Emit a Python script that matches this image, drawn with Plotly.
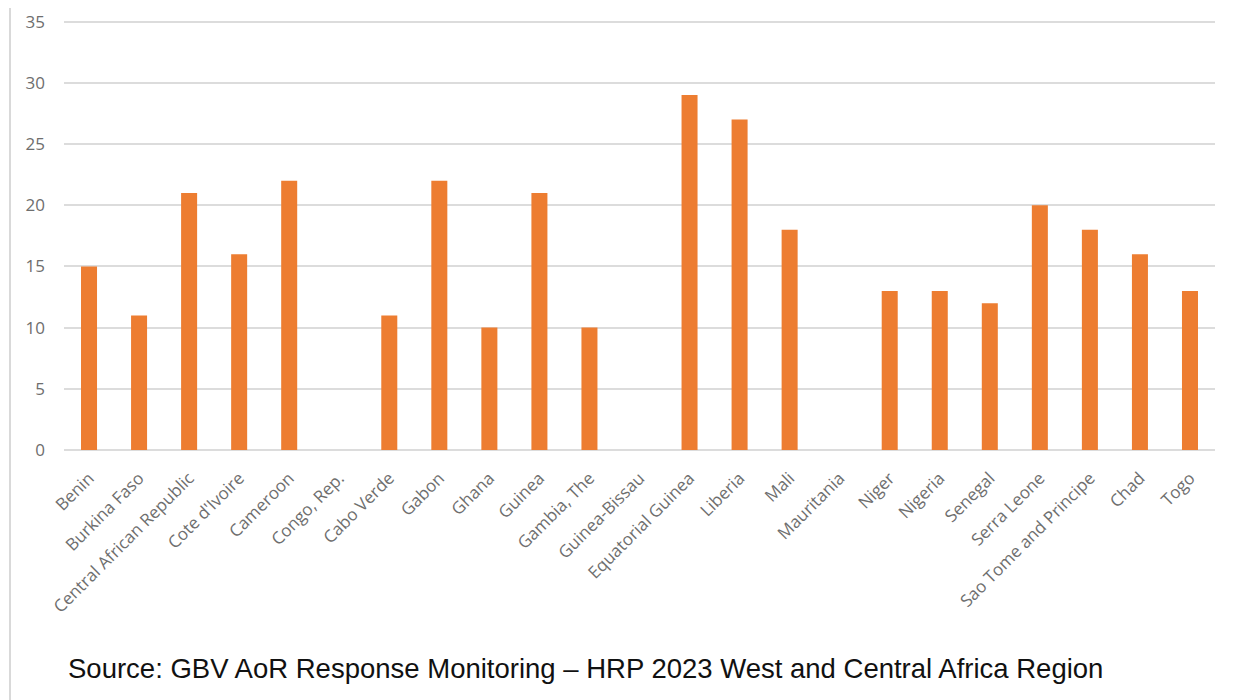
import plotly.graph_objects as go

countries = ["Benin", "Burkina Faso", "Central African Republic", "Cote d'Ivoire", "Cameroon",
             "Congo, Rep.", "Cabo Verde", "Gabon", "Ghana", "Guinea", "Gambia, The",
             "Guinea-Bissau", "Equatorial Guinea", "Liberia", "Mali", "Mauritania", "Niger",
             "Nigeria", "Senegal", "Serra Leone", "Sao Tome and Principe", "Chad", "Togo"]
values = [15, 11, 21, 16, 22, 0, 11, 22, 10, 21, 10, 0, 29, 27, 18, 0, 13, 13, 12, 20, 18, 16, 13]
y_ticks = [0, 5, 10, 15, 20, 25, 30, 35]
source_text = "Source: GBV AoR Response Monitoring \u2013 HRP 2023 West and Central Africa Region"

# page body has an 8px margin; compensate so the photographed layout matches
OFF = 8
W, H = 1238, 700
Y_MAX = 35.3
ml, mr, mb = 64 - OFF, 23 + OFF, 250 + OFF
ph = round(428 * Y_MAX / 35)
mt = H - mb - ph
pw = W - ml - mr

fig = go.Figure(go.Bar(x=countries, y=values, marker_color="#ED7D31", marker_line_width=0))

fig.update_layout(
    width=W, height=H,
    margin=dict(l=ml, r=mr, t=mt, b=mb, autoexpand=False),
    paper_bgcolor="white", plot_bgcolor="white",
    bargap=0.68,
    showlegend=False,
    font=dict(family="Open Sans, sans-serif", color="#7f7f7f"),
    xaxis=dict(
        tickangle=-45, tickfont=dict(size=17, color="#6e6e6e"),
        showgrid=False, showline=False, zeroline=False, ticks="",
        ticklabelstandoff=14, automargin=False,
    ),
    yaxis=dict(
        range=[0, Y_MAX], tickvals=y_ticks, ticktext=[str(v) for v in y_ticks],
        showgrid=True, gridcolor="#dcdcdc", gridwidth=2,
        zeroline=True, zerolinecolor="#dcdcdc", zerolinewidth=2,
        showline=False, ticks="", tickfont=dict(size=17, color="#6e6e6e"),
        ticklabelstandoff=18, automargin=False,
    ),
    annotations=[dict(
        text=source_text, xref="paper", yref="paper",
        x=(66 - OFF - ml) / pw, y=-(668 - OFF - (H - mb)) / ph,
        xanchor="left", yanchor="middle", showarrow=False,
        font=dict(family="Liberation Sans, Arial, sans-serif", size=27.5, color="#111111"),
    )],
    shapes=[
        dict(type="line", xref="paper", yref="paper",
             x0=(10 - OFF - ml) / pw, x1=(10 - OFF - ml) / pw,
             y0=-(mb) / ph, y1=1 + mt / ph,
             line=dict(color="#d9d9d9", width=2)),
    ],
)

fig.write_html("out.html")
